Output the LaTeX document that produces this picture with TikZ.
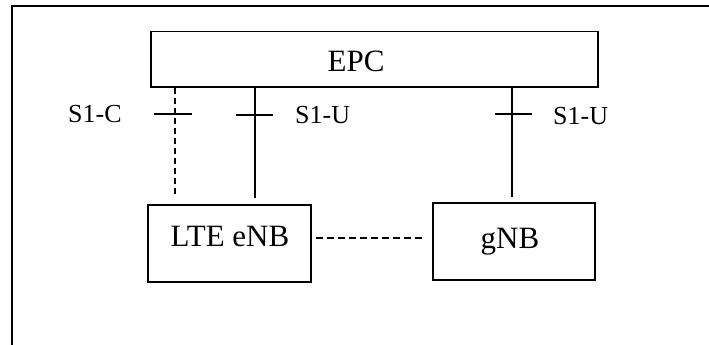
\documentclass[tikz,border=0pt]{standalone}
\usepackage{fontspec}
\setmainfont{Liberation Serif}
\begin{document}
\begin{tikzpicture}[x=1pt,y=-1pt,
  box/.style={draw,line width=1.5pt,inner sep=0pt,anchor=north west},
  conn/.style={line width=1.1pt},
  dconn/.style={line width=1.1pt,dash pattern=on 6pt off 4pt},
  tick/.style={line width=1.1pt},
  bigtxt/.style={font=\fontsize{31}{31}\selectfont,anchor=base,inner sep=0pt},
  smalltxt/.style={font=\fontsize{26}{26}\selectfont,anchor=base west,inner sep=0pt}]
\useasboundingbox (0,0) rectangle (709,345);
% outer frame
\coordinate (ftl) at (12,6);
\coordinate (ftr) at (709,6);
\coordinate (fbl) at (12,345);
\draw[line width=1.6pt] (ftr) -- (ftl) -- (fbl);
% boxes
\node[box,minimum width=447pt,minimum height=55pt] (epc) at (150,31) {};
\node[box,minimum width=163pt,minimum height=77pt] (enb) at (147,204) {};
\node[box,minimum width=162pt,minimum height=77pt] (gnb) at (432,202) {};
% texts
\node[bigtxt] (epct) at (356,71) {EPC};
\node[bigtxt] (enbt) at (230,246) {LTE eNB};
\node[bigtxt] (gnbt) at (510,248) {gNB};
% S1-C dashed
\coordinate (c1e) at (175,195);
\draw[dconn] (epc.south -| c1e) -- (c1e);
\coordinate (t1a) at (154,114);
\coordinate (t1b) at (192,114);
\draw[tick] (t1a) -- (t1b);
\node[smalltxt] (s1c) at (68,122) {S1-C};
% S1-U left
\coordinate (u1e) at (255,198);
\draw[conn] (epc.south -| u1e) -- (u1e);
\coordinate (t2a) at (236,115);
\coordinate (t2b) at (273,115);
\draw[tick] (t2a) -- (t2b);
\node[smalltxt] (s1u1) at (295,123) {S1-U};
% S1-U right
\coordinate (u2e) at (512,197);
\draw[conn] (epc.south -| u2e) -- (u2e);
\coordinate (t3a) at (495,114);
\coordinate (t3b) at (532,114);
\draw[tick] (t3a) -- (t3b);
\node[smalltxt] (s1u2) at (553,124) {S1-U};
% X2 dashed
\coordinate (x2a) at (316,238);
\coordinate (x2b) at (423,238);
\draw[dconn,dash pattern=on 7pt off 4pt] (x2a) -- (x2b);
\end{tikzpicture}
\end{document}
